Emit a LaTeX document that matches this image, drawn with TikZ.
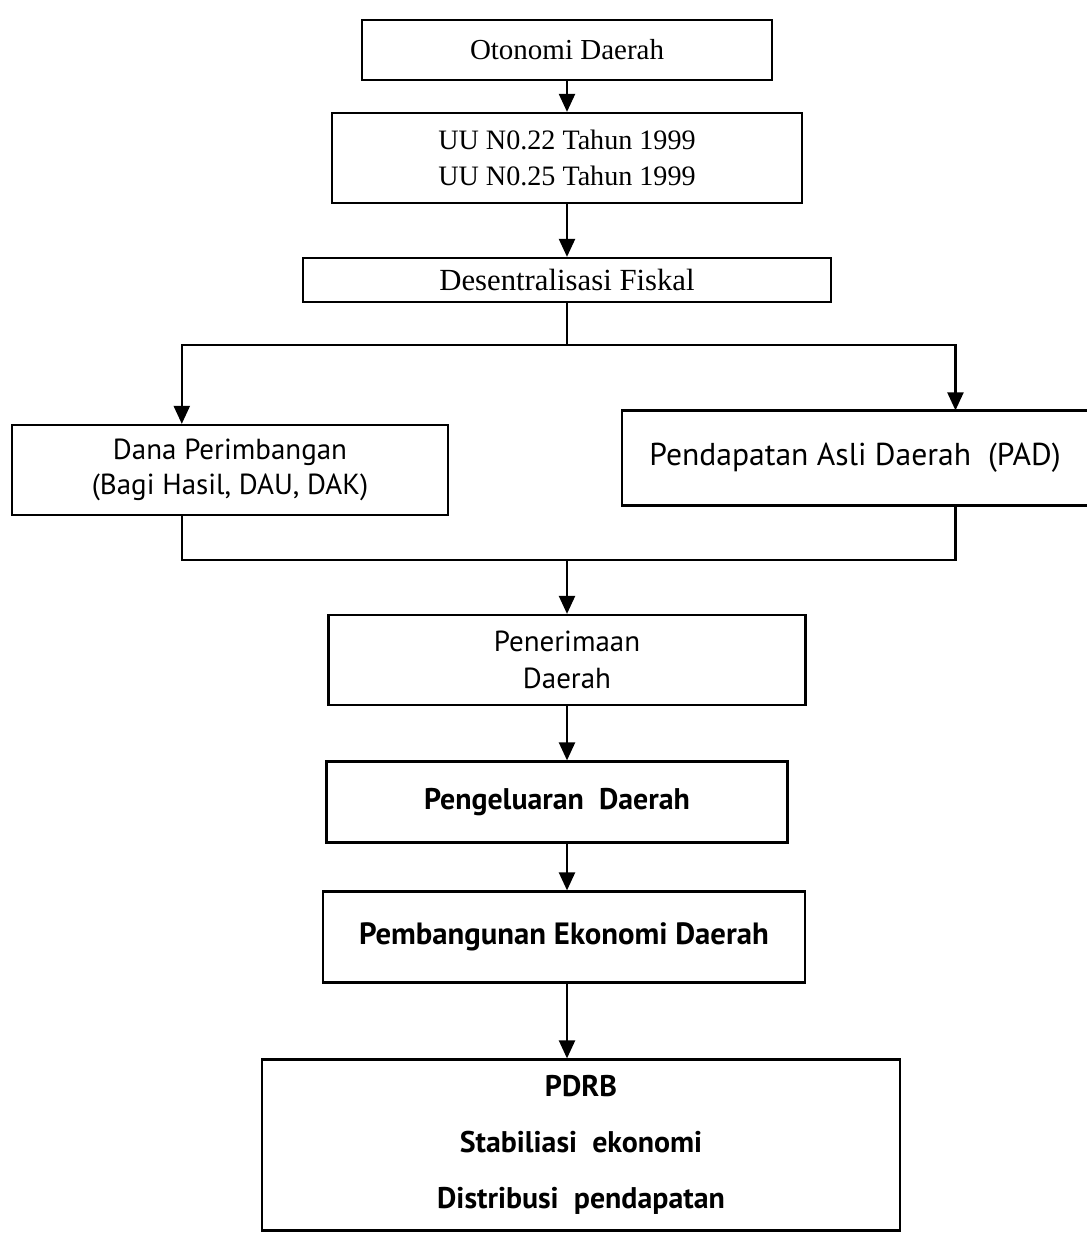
\documentclass[tikz,border=0pt]{standalone}
\usepackage{fontspec}
\setmainfont{Liberation Serif}
\newfontfamily\ptsans{PT Sans}
\usetikzlibrary{arrows.meta, positioning, calc}

\begin{document}
\begin{tikzpicture}[x=0.02cm,y=-0.02cm,>={Triangle[length=3.6mm,width=3.2mm]},box/.style={draw=black, line width=1.3pt, fill=white, inner sep=0pt, align=center},serifbox/.style={box, font=\fontsize{16.5}{20}\selectfont},sansbox/.style={box, font=\ptsans\fontsize{16.5}{20}\selectfont},boldbox/.style={box, font=\ptsans\bfseries\fontsize{17}{21}\selectfont},flow/.style={->, line width=1.3pt},link/.style={line width=1.3pt}]
\useasboundingbox (0,0) rectangle (1087,1234);
\fill[white] (0,0) rectangle (1087,1234);
% top column
\node[serifbox, minimum width=8.2cm, minimum height=1.2cm] (otonomi) at (567,50) {Otonomi Daerah};
\node[serifbox, font=\fontsize{16}{20}\selectfont, minimum width=9.4cm, minimum height=1.8cm] (uu) at (567,158) {UU N0.22 Tahun 1999\\UU N0.25 Tahun 1999};
\node[serifbox, font=\fontsize{17.5}{20}\selectfont, minimum width=10.56cm, minimum height=0.88cm] (desen) at (567,280) {Desentralisasi Fiskal};
\draw[flow] (otonomi) -- (uu);
\draw[flow] (uu) -- (desen);
% two sources
\node[sansbox, minimum width=8.72cm, minimum height=1.8cm] (dana) at (230,470) {Dana Perimbangan\\(Bagi Hasil, DAU, DAK)};
\node[sansbox, font=\ptsans\fontsize{18}{20}\selectfont, draw=none, minimum width=9.28cm, minimum height=1.86cm] (pad) at (855,458) {Pendapatan Asli Daerah~ (PAD)};
\draw[link] (pad.north east) -- (pad.north west) -- (pad.south west) -- (pad.south east);
\coordinate (split) at (567,345);
\coordinate (join) at (567,560);
\draw[link] (desen) -- (split);
\draw[flow] (split) -| ($(dana.north west)!0.39!(dana.north east)$);
\draw[flow] (split) -| ($(pad.north west)!0.7155!(pad.north east)$);
\draw[link] ($(dana.south west)!0.39!(dana.south east)$) |- (join) -| ($(pad.south west)!0.7155!(pad.south east)$);
% lower column
\node[boldbox, font=\ptsans\fontsize{16.5}{21}\selectfont, minimum width=9.54cm, minimum height=1.8cm] (pener) at (567,660) {Penerimaan\\Daerah};
\node[boldbox, minimum width=9.22cm, minimum height=1.62cm] (peng) at (557,802) {Pengeluaran~ Daerah};
\node[boldbox, font=\ptsans\bfseries\fontsize{17.5}{21}\selectfont, minimum width=9.64cm, minimum height=1.82cm] (pemb) at (564,937) {Pembangunan Ekonomi Daerah};
\node[boldbox, minimum width=12.76cm, minimum height=3.42cm] (pdrb) at (581,1145) {PDRB\\[11pt]Stabiliasi~ ekonomi\\[11pt]Distribusi~ pendapatan};
\draw[flow] (join) -- (pener);
\draw[flow] (pener.south) -- (pener.south |- peng.north);
\draw[flow] (pener.south |- peng.south) -- (pener.south |- pemb.north);
\draw[flow] (pener.south |- pemb.south) -- (pener.south |- pdrb.north);
\end{tikzpicture}
\end{document}
